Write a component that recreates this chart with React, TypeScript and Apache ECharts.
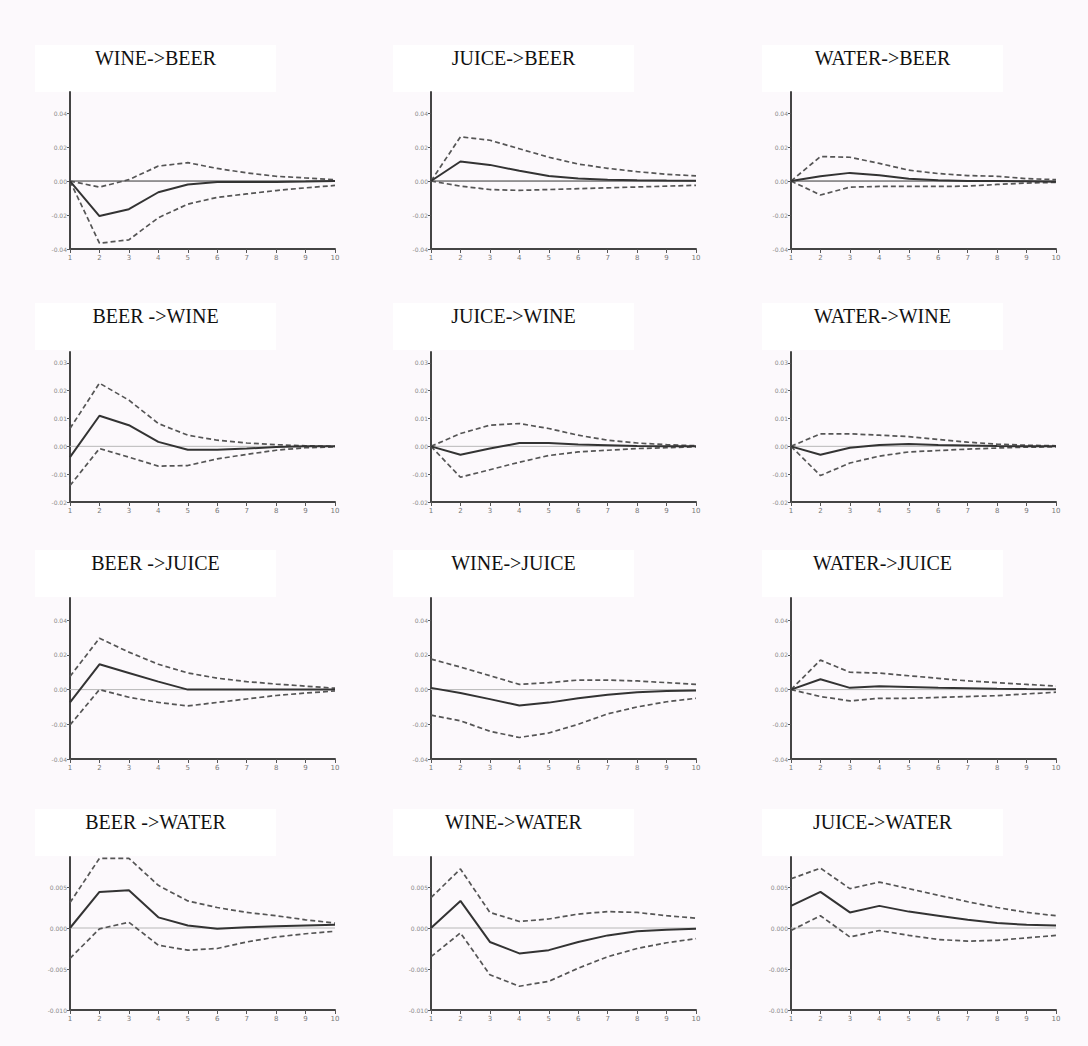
import React, { useEffect, useRef } from "react";
import * as echarts from "echarts";

const periods = [1, 2, 3, 4, 5, 6, 7, 8, 9, 10];

const titles = [
  "WINE->BEER", "JUICE->BEER", "WATER->BEER",
  "BEER ->WINE", "JUICE->WINE", "WATER->WINE",
  "BEER ->JUICE", "WINE->JUICE", "WATER->JUICE",
  "BEER ->WATER", "WINE->WATER", "JUICE->WATER",
];

// Row 1
const wineBeerIrf = [0, -0.0206, -0.0166, -0.0066, -0.002, -0.0006, -0.0005, -0.0005, -0.0003, 0];
const wineBeerUp = [0, -0.0036, 0.0008, 0.0088, 0.0108, 0.0074, 0.0048, 0.0028, 0.0018, 0.0008];
const wineBeerLo = [0, -0.0366, -0.0346, -0.0216, -0.0136, -0.0096, -0.0076, -0.0056, -0.004, -0.0026];

const juiceBeerIrf = [0, 0.0115, 0.0095, 0.006, 0.003, 0.0015, 0.0008, 0.0005, 0.0003, 0.0002];
const juiceBeerUp = [0, 0.026, 0.024, 0.019, 0.014, 0.01, 0.0075, 0.0055, 0.004, 0.003];
const juiceBeerLo = [0, -0.003, -0.005, -0.0055, -0.005, -0.0045, -0.004, -0.0035, -0.003, -0.0025];

const waterBeerIrf = [0, 0.0028, 0.0048, 0.0034, 0.0014, 0.0004, 0, 0, -0.0002, -0.0004];
const waterBeerUp = [0, 0.0144, 0.014, 0.0104, 0.0064, 0.0044, 0.0032, 0.0028, 0.0014, 0.0008];
const waterBeerLo = [0, -0.0082, -0.0036, -0.0032, -0.0032, -0.0032, -0.003, -0.002, -0.0012, -0.0008];

// Row 2
const beerWineIrf = [-0.0039, 0.011, 0.0076, 0.0016, -0.0012, -0.0012, -0.0008, -0.0002, 0, 0];
const beerWineUp = [0.0064, 0.0227, 0.0166, 0.0082, 0.004, 0.0022, 0.0012, 0.0006, 0.0002, 0];
const beerWineLo = [-0.0141, -0.0008, -0.0039, -0.0071, -0.0069, -0.0045, -0.0029, -0.0014, -0.0005, -0.0002];

const juiceWineIrf = [0, -0.003, -0.0008, 0.0012, 0.0012, 0.0007, 0.0004, 0.0001, 0, 0];
const juiceWineUp = [0, 0.0046, 0.0076, 0.0082, 0.0064, 0.004, 0.0022, 0.0012, 0.0006, 0.0002];
const juiceWineLo = [0, -0.0111, -0.0084, -0.0057, -0.0033, -0.002, -0.0014, -0.0008, -0.0005, -0.0002];

const waterWineIrf = [0, -0.003, -0.0005, 0.0005, 0.0008, 0.0005, 0.0003, 0.0001, 0, 0];
const waterWineUp = [0, 0.0045, 0.0045, 0.004, 0.0035, 0.0025, 0.0015, 0.0008, 0.0004, 0.0002];
const waterWineLo = [0, -0.0105, -0.006, -0.0035, -0.002, -0.0015, -0.001, -0.0006, -0.0003, -0.0002];

// Row 3
const beerJuiceIrf = [-0.0074, 0.0146, 0.0096, 0.0046, 0, 0, 0, 0, 0, 0];
const beerJuiceUp = [0.0076, 0.0296, 0.0216, 0.0146, 0.0096, 0.0066, 0.0046, 0.0032, 0.002, 0.0008];
const beerJuiceLo = [-0.0204, 0, -0.0044, -0.0074, -0.0094, -0.0074, -0.0054, -0.0034, -0.002, -0.0008];

const wineJuiceIrf = [0.001, -0.002, -0.0055, -0.0092, -0.0075, -0.005, -0.003, -0.0015, -0.0008, -0.0005];
const wineJuiceUp = [0.0176, 0.013, 0.008, 0.003, 0.004, 0.0055, 0.0055, 0.005, 0.004, 0.003];
const wineJuiceLo = [-0.0147, -0.018, -0.024, -0.0276, -0.025, -0.02, -0.014, -0.01, -0.007, -0.005];

const waterJuiceIrf = [0, 0.006, 0.001, 0.002, 0.0015, 0.001, 0.0008, 0.0005, 0.0003, 0.0002];
const waterJuiceUp = [0, 0.017, 0.01, 0.0095, 0.008, 0.0065, 0.005, 0.004, 0.003, 0.002];
const waterJuiceLo = [0, -0.004, -0.0065, -0.005, -0.005, -0.0045, -0.004, -0.0035, -0.0025, -0.0015];

// Row 4
const beerWaterIrf = [0, 0.0044, 0.0046, 0.0013, 0.0003, -0.0001, 0.0001, 0.0002, 0.0003, 0.0004];
const beerWaterUp = [0.0031, 0.0085, 0.0085, 0.0052, 0.0033, 0.0025, 0.0019, 0.0015, 0.001, 0.0006];
const beerWaterLo = [-0.0037, -0.0001, 0.0007, -0.0021, -0.0027, -0.0025, -0.0017, -0.0011, -0.0007, -0.0004];

const wineWaterIrf = [0, 0.0033, -0.0017, -0.0031, -0.0027, -0.0017, -0.0009, -0.0004, -0.0002, -0.0001];
const wineWaterUp = [0.0037, 0.0072, 0.0019, 0.0008, 0.0011, 0.0017, 0.002, 0.0019, 0.0015, 0.0012];
const wineWaterLo = [-0.0035, -0.0006, -0.0057, -0.0071, -0.0065, -0.0049, -0.0035, -0.0025, -0.0018, -0.0013];

const juiceWaterIrf = [0.0027, 0.0044, 0.0019, 0.0027, 0.002, 0.0015, 0.001, 0.0006, 0.0004, 0.0003];
const juiceWaterUp = [0.006, 0.0073, 0.0048, 0.0056, 0.0048, 0.004, 0.0032, 0.0025, 0.0019, 0.0015];
const juiceWaterLo = [-0.0003, 0.0015, -0.0011, -0.0003, -0.0009, -0.0014, -0.0016, -0.0015, -0.0012, -0.0009];

const irfs = [
  wineBeerIrf, juiceBeerIrf, waterBeerIrf,
  beerWineIrf, juiceWineIrf, waterWineIrf,
  beerJuiceIrf, wineJuiceIrf, waterJuiceIrf,
  beerWaterIrf, wineWaterIrf, juiceWaterIrf,
];
const uppers = [
  wineBeerUp, juiceBeerUp, waterBeerUp,
  beerWineUp, juiceWineUp, waterWineUp,
  beerJuiceUp, wineJuiceUp, waterJuiceUp,
  beerWaterUp, wineWaterUp, juiceWaterUp,
];
const lowers = [
  wineBeerLo, juiceBeerLo, waterBeerLo,
  beerWineLo, juiceWineLo, waterWineLo,
  beerJuiceLo, wineJuiceLo, waterJuiceLo,
  beerWaterLo, wineWaterLo, juiceWaterLo,
];

// Axis scales per row
const rowYMin = [-0.04, -0.02, -0.04, -0.01];
const rowYMax = [0.0524, 0.0339, 0.0528, 0.00866];
const rowYStep = [0.02, 0.01, 0.02, 0.005];
const rowDecimals = [2, 2, 2, 3];

// Layout
const colLeft = [70, 431, 791];
const plotWidth = 265;
const rowTop = [92, 352, 598, 857];
const rowBottom = [249, 502, 759, 1010];
const boxLeft = [35, 393, 762];
const boxTop = [45, 303, 550, 809];
const boxW = 241;
const boxH = 47;
const rowZeroColor = ["#333333", "#b8b8b8", "#b8b8b8", "#b8b8b8"];

export default function App() {
  const ref = useRef<HTMLDivElement>(null);
  useEffect(() => {
    document.body.style.margin = "0";
    const chart = echarts.init(ref.current!, null, { renderer: "svg" });
    const grid: any[] = [];
    const xAxis: any[] = [];
    const yAxis: any[] = [];
    const series: any[] = [];
    const graphic: any[] = [];
    for (let i = 0; i < 12; i++) {
      const r = Math.floor(i / 3);
      const c = i % 3;
      grid.push({
        left: colLeft[c],
        top: rowTop[r],
        width: plotWidth,
        height: rowBottom[r] - rowTop[r],
      });
      xAxis.push({
        type: "value",
        gridIndex: i,
        min: 1,
        max: 10,
        interval: 1,
        axisLine: { onZero: false, lineStyle: { color: "#444", width: 2 } },
        axisTick: { show: true, length: 4, lineStyle: { color: "#555", width: 1 } },
        axisLabel: { fontSize: 7, color: "#777", margin: 5, fontFamily: "DejaVu Sans" },
        splitLine: { show: false },
      });
      const dec = rowDecimals[r];
      yAxis.push({
        type: "value",
        gridIndex: i,
        min: rowYMin[r],
        max: rowYMax[r],
        interval: rowYStep[r],
        axisLine: { show: true, onZero: false, lineStyle: { color: "#444", width: 2 } },
        axisTick: { show: true, length: 3, lineStyle: { color: "#555", width: 1 } },
        axisLabel: {
          fontSize: 6,
          color: "#888",
          margin: 3,
          showMaxLabel: false,
          fontFamily: "DejaVu Sans",
          formatter: (v: number) => (Math.abs(v) < 1e-9 ? (0).toFixed(dec) : v.toFixed(dec)),
        },
        splitLine: { show: false },
      });
      series.push({
        type: "line",
        xAxisIndex: i,
        yAxisIndex: i,
        data: [[1, 0], [10, 0]],
        symbol: "none",
        silent: true,
        lineStyle: { color: rowZeroColor[r], width: 1 },
        z: 1,
      });
      series.push({
        type: "line",
        xAxisIndex: i,
        yAxisIndex: i,
        data: periods.map((p, k) => [p, uppers[i][k]]),
        symbol: "none",
        lineStyle: { color: "#555", width: 1.7, type: [5, 3] },
        z: 2,
      });
      series.push({
        type: "line",
        xAxisIndex: i,
        yAxisIndex: i,
        data: periods.map((p, k) => [p, lowers[i][k]]),
        symbol: "none",
        lineStyle: { color: "#555", width: 1.7, type: [5, 3] },
        z: 2,
      });
      series.push({
        type: "line",
        xAxisIndex: i,
        yAxisIndex: i,
        data: periods.map((p, k) => [p, irfs[i][k]]),
        symbol: "none",
        lineStyle: { color: "#333", width: 2 },
        z: 3,
      });
      graphic.push({
        type: "rect",
        shape: { x: boxLeft[c], y: boxTop[r], width: boxW, height: boxH },
        style: { fill: "#ffffff" },
        z: 0,
      });
      graphic.push({
        type: "text",
        x: boxLeft[c] + boxW / 2,
        y: boxTop[r] + 13,
        style: {
          text: titles[i],
          fill: "#111",
          font: '20px "Liberation Serif", "Times New Roman", serif',
          align: "center",
          verticalAlign: "middle",
        },
        z: 1,
      });
    }
    chart.setOption({
      animation: false,
      backgroundColor: "#fcf9fc",
      grid,
      xAxis,
      yAxis,
      series,
      graphic,
    });
    return () => chart.dispose();
  }, []);
  return <div ref={ref} style={{ width: 1088, height: 1046 }} />;
}
